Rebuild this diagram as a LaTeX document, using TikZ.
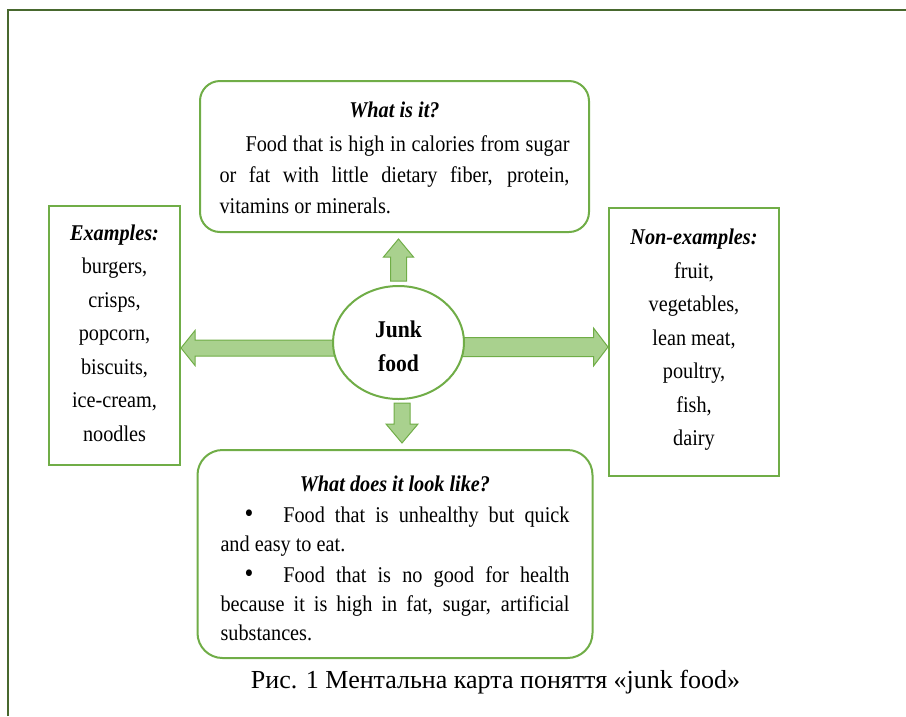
\documentclass[tikz,border=0pt]{standalone}
\usepackage{fontspec}
\setmainfont{Liberation Serif}[FakeStretch=0.9]
\newfontfamily\captionfont{Liberation Serif}
\usetikzlibrary{shapes.geometric}
\usetikzlibrary{calc}
\usetikzlibrary{backgrounds}
\definecolor{boxgreen}{RGB}{112,173,71}
\definecolor{arrowfill}{RGB}{169,209,142}
\definecolor{framegreen}{RGB}{72,104,46}
\tikzset{
  roundbox/.style={draw=boxgreen, line width=2, align=justify, inner sep=0},
  sidebox/.style={draw=boxgreen, line width=2, align=center, font=\fontsize{22.5}{33.5}\selectfont},
  fatarrow/.style={draw=boxgreen, line width=1, fill=arrowfill}
}
\newcommand{\fatarrow}[5]{%
  \draw[fatarrow] let \p1=($(#2)-(#1)$), \n1={atan2(\y1,\x1)}, \n2={veclen(\x1,\y1)} in
    [shift={(#1)}, rotate=\n1]
    (0pt,-#3pt) -- ({\n2-#5pt},-#3pt) -- ({\n2-#5pt},-#4pt) -- (\n2,0pt)
    -- ({\n2-#5pt},#4pt) -- ({\n2-#5pt},#3pt) -- (0pt,#3pt) -- cycle;}
\newcommand{\bigbullet}{{\fontsize{28}{29}\selectfont\textbullet}}
\begin{document}
\begin{tikzpicture}[x=1pt, y=-1pt]
\useasboundingbox (0,0) rectangle (906,716);
\draw[framegreen, line width=2.5] (8,716) -- (8,10) -- (906,10);
\node[roundbox, rounded corners=20, minimum width=389, minimum height=151, text width=350,
  font=\fontsize{22.5}{31}\selectfont] (what) at (394.5,156.5)
  {{\centering\bfseries\itshape What is it?\par}\vspace{3pt}
   \hspace*{26pt}Food that is high in calories from sugar\linebreak or fat with little dietary fiber, protein,\linebreak vitamins or minerals.\vspace*{-3pt}};
\node[roundbox, rounded corners=25, minimum width=395, minimum height=208, text width=349,
  font=\fontsize{22.5}{29}\selectfont] (look) at (395,554)
  {\setlength{\parskip}{2pt}{\centering\bfseries\itshape What does it look like?\par}
   \hspace*{24pt}\bigbullet\hspace*{30pt}Food that is unhealthy but quick\linebreak and easy to eat.\par
   \hspace*{24pt}\bigbullet\hspace*{30pt}Food that is no good for health\linebreak because it is high in fat, sugar, artificial\linebreak substances.\vspace*{-9pt}};
\node[sidebox, minimum width=131, minimum height=259] (examples) at (114.5,335)
  {\textbf{\textit{Examples:}}\\burgers,\\crisps,\\popcorn,\\biscuits,\\ice-cream,\\noodles\vspace*{4pt}};
\node[sidebox, minimum width=170, minimum height=268] (nonex) at (694,342)
  {\textbf{\textit{Non-examples:}}\\fruit,\\vegetables,\\lean meat,\\poultry,\\fish,\\dairy\vspace*{4pt}};
\node[ellipse, draw=boxgreen, line width=2, fill=white, minimum width=131, minimum height=113,
  inner sep=0, align=center, font=\fontsize{24}{34}\selectfont\bfseries] (junk) at (398.5,342.5) {Junk\\food\vspace*{-8pt}};
\coordinate (upA) at ([yshift=4pt]junk.north);
\coordinate (upB) at ($(upA |- what.south)+(0,6)$);
\coordinate (downA) at ($(junk.south)+(3.5,3)$);
\coordinate (downB) at ($(downA |- look.north)+(0,-6)$);
\coordinate (leftA) at ($(junk.west)+(8,5.5)$);
\coordinate (leftB) at (examples.east |- leftA);
\coordinate (rightA) at ($(junk.east)+(-8,4.5)$);
\coordinate (rightB) at (nonex.west |- rightA);
\begin{scope}[on background layer]
\fatarrow{upA}{upB}{8}{15}{18}
\fatarrow{downA}{downB}{8}{16}{19}
\fatarrow{leftA}{leftB}{8}{17.5}{14}
\fatarrow{rightA}{rightB}{9.5}{19}{14.5}
\end{scope}
\node[anchor=base, font=\captionfont\fontsize{26}{30}\selectfont] (caption) at (495.5,688)
  {Рис. 1 Ментальна карта поняття «junk food»};
\end{tikzpicture}
\end{document}
